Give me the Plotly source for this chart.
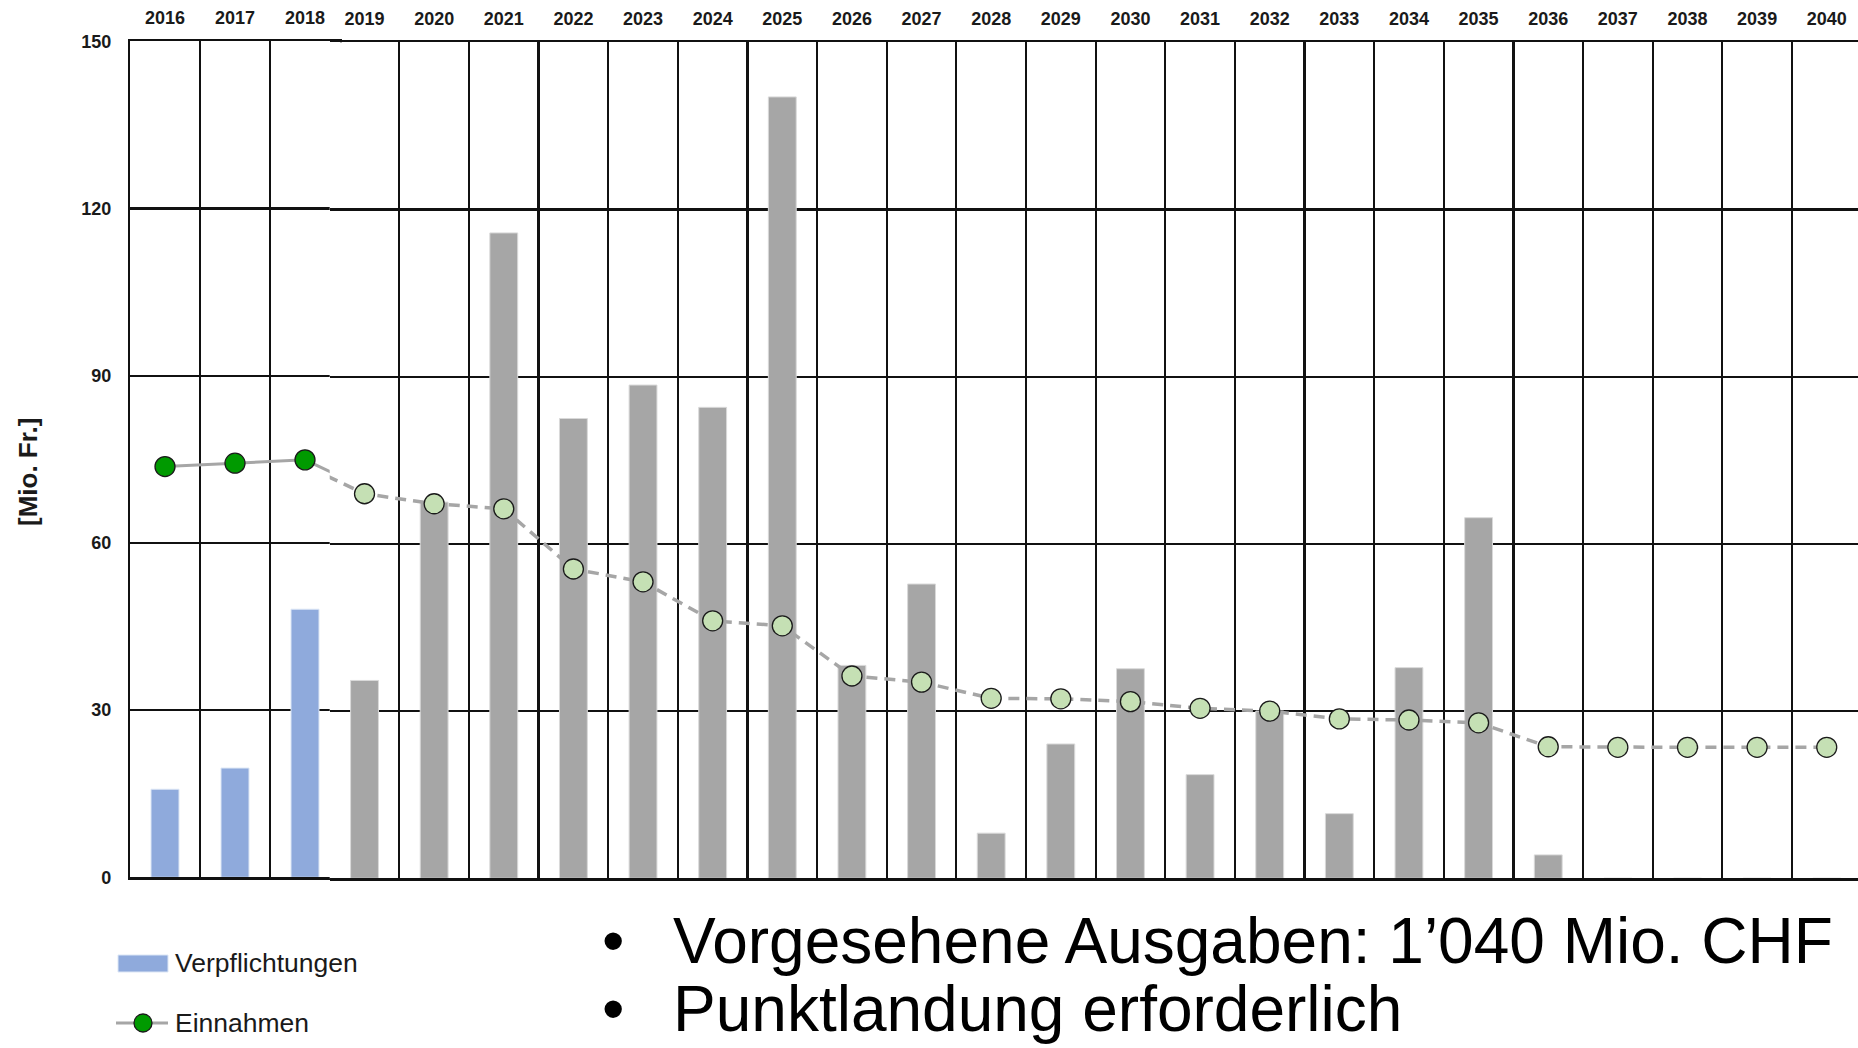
import plotly.graph_objects as go

# ---------------- data ----------------
years_actual = [2016, 2017, 2018]
verpflichtungen_actual = [15.8, 19.6, 48.1]
einnahmen_actual = [73.7, 74.3, 74.9]

years_plan = [2019, 2020, 2021, 2022, 2023, 2024, 2025, 2026, 2027, 2028, 2029,
              2030, 2031, 2032, 2033, 2034, 2035, 2036, 2037, 2038, 2039, 2040]
verpflichtungen_plan = [35.5, 67.5, 115.8, 82.5, 88.5, 84.5, 140.2, 38.2, 52.8, 8.1, 24.1,
                        37.6, 18.6, 30.0, 11.6, 37.8, 64.7, 4.2, 0, 0, 0, 0]
einnahmen_plan = [69.0, 67.2, 66.3, 55.5, 53.2, 46.2, 45.3, 36.3, 35.2, 32.3, 32.2,
                  31.7, 30.5, 30.0, 28.6, 28.4, 27.9, 23.6, 23.5, 23.5, 23.5, 23.5]

y_ticks = [0, 30, 60, 90, 120, 150]
y_title = "[Mio. Fr.]"
legend_labels = ["Verpflichtungen", "Einnahmen"]
bullets = ["Vorgesehene Ausgaben: 1\u2019040 Mio. CHF", "Punktlandung erforderlich"]

# ---------------- style ----------------
W, H = 1858, 1048
SANS = "Liberation Sans, Arial"
BLUE = "#8FAADC"
GRAY = "#A6A6A6"
GREEN = "#009A00"
LGREEN = "#C5E0B4"
GRID = "#111111"
TXT = "#1a1a1a"


def px_x(p):
    """window pixel -> paper x"""
    return p / W


def px_y(p):
    """window pixel -> paper y"""
    return 1 - p / H


fig = go.Figure()

# left panel (actual values)
fig.add_trace(go.Bar(x=years_actual, y=verpflichtungen_actual, width=0.4,
                     marker=dict(color=BLUE, line=dict(color="#DCE6F5", width=1)),
                     name=legend_labels[0], xaxis="x", yaxis="y"))
fig.add_trace(go.Scatter(x=years_actual + years_plan[:1],
                         y=einnahmen_actual + einnahmen_plan[:1],
                         mode="lines+markers", name=legend_labels[1],
                         line=dict(color=GRAY, width=3),
                         marker=dict(color=GREEN, size=20, line=dict(color=TXT, width=1.3)),
                         xaxis="x", yaxis="y"))

# right panel (planned values)
fig.add_trace(go.Bar(x=years_plan, y=verpflichtungen_plan, width=0.4,
                     marker=dict(color=GRAY, line=dict(color="#D9D9D9", width=1)),
                     name="Verpflichtungen (geplant)", xaxis="x2", yaxis="y2"))
fig.add_trace(go.Scatter(x=years_actual[-1:] + years_plan,
                         y=einnahmen_actual[-1:] + einnahmen_plan,
                         mode="lines+markers", name="Einnahmen (geplant)",
                         line=dict(color=GRAY, width=3.5, dash="11px,7px"),
                         marker=dict(color=LGREEN, size=20, line=dict(color=TXT, width=1.3)),
                         xaxis="x2", yaxis="y2"))

tickfont_b = dict(family=SANS, size=18, color=TXT, weight="bold")

left_minor = [y + 0.5 for y in years_actual[:-1]]
right_minor = [y + 0.5 for y in years_plan[:-1]]

common_x = dict(side="top", tickmode="array", ticks="outside", ticklen=8,
                tickcolor="rgba(0,0,0,0)", tickfont=tickfont_b, showgrid=False,
                zeroline=False, showline=True, mirror=True, linecolor=GRID, linewidth=2.2,
                automargin=False, fixedrange=True)

fig.update_layout(
    width=W, height=H, autosize=False,
    margin=dict(l=0, r=0, t=0, b=0),
    paper_bgcolor="white", plot_bgcolor="white",
    bargap=0,
    showlegend=False,
    hovermode=False,
    xaxis=dict(domain=[px_x(130), px_x(340)], range=[2015.5, 2018.5],
               tickvals=years_actual, ticktext=[str(y) for y in years_actual],
               minor=dict(tickmode="array", tickvals=left_minor, showgrid=True,
                          gridcolor=GRID, gridwidth=2.2, ticks=""),
               anchor="y", **common_x),
    yaxis=dict(domain=[px_y(877.3), px_y(41.3)], range=[0, 150],
               tickmode="array", tickvals=y_ticks, ticktext=[str(v) for v in y_ticks],
               ticks="outside", ticklen=13, tickcolor="rgba(0,0,0,0)",
               tickfont=tickfont_b, showgrid=True, gridcolor=GRID, gridwidth=2.2,
               zeroline=False, showline=True, mirror=True, linecolor=GRID, linewidth=2.2,
               anchor="x", automargin=False, fixedrange=True),
    xaxis2=dict(domain=[px_x(329.7), 1.0],
                range=[2018.5, 2018.5 + (W - 329.7) / 69.63],
                tickvals=years_plan, ticktext=[str(y) for y in years_plan],
                minor=dict(tickmode="array", tickvals=right_minor, showgrid=True,
                           gridcolor=GRID, gridwidth=2.2, ticks=""),
                anchor="y2", **common_x),
    yaxis2=dict(domain=[px_y(878.3), px_y(42.3)], range=[0, 150],
                tickmode="array", tickvals=y_ticks, showticklabels=False,
                showgrid=True, gridcolor=GRID, gridwidth=2.2, zeroline=False,
                showline=False, anchor="x2", automargin=False, fixedrange=True),
)

# y-axis title
fig.add_annotation(text=y_title, xref="paper", yref="paper", x=px_x(28), y=px_y(472),
                   xanchor="center", yanchor="middle", textangle=-90, showarrow=False,
                   font=dict(family=SANS, size=26, color=TXT, weight="bold"))

# legend (drawn below the chart, as in the original slide)
leg_font = dict(family=SANS, size=26.5, color=TXT)
fig.add_shape(type="rect", xref="paper", yref="paper",
              x0=px_x(118), x1=px_x(168), y0=px_y(972), y1=px_y(955),
              fillcolor=BLUE, line=dict(color="#DCE6F5", width=1))
fig.add_annotation(text=legend_labels[0], xref="paper", yref="paper", x=px_x(173),
                   y=px_y(963), xanchor="left", yanchor="middle", showarrow=False,
                   font=leg_font)
fig.add_shape(type="line", xref="paper", yref="paper",
              x0=px_x(116), x1=px_x(168), y0=px_y(1023), y1=px_y(1023),
              line=dict(color=GRAY, width=3))
fig.add_shape(type="circle", xref="paper", yref="paper",
              x0=px_x(134), x1=px_x(152), y0=px_y(1032), y1=px_y(1014),
              fillcolor=GREEN, line=dict(color=TXT, width=1.3))
fig.add_annotation(text=legend_labels[1], xref="paper", yref="paper", x=px_x(173),
                   y=px_y(1023), xanchor="left", yanchor="middle", showarrow=False,
                   font=leg_font)

# bullet text
bullet_y = [941, 1009]
for t, yc in zip(bullets, bullet_y):
    fig.add_annotation(text="\u2022", xref="paper", yref="paper", x=px_x(613), y=px_y(yc),
                       xanchor="center", yanchor="middle", showarrow=False,
                       font=dict(family=SANS, size=64, color="black"))
    fig.add_annotation(text=t, xref="paper", yref="paper", x=px_x(671), y=px_y(yc),
                       xanchor="left", yanchor="middle", showarrow=False,
                       font=dict(family=SANS, size=64, color="black"))

# remove the default page margin so the figure fills the window exactly
fig.write_html(
    "out.html",
    config={"displayModeBar": False, "staticPlot": True},
    post_script="document.body.style.margin='0';"
                "document.body.style.overflow='hidden';"
                "document.documentElement.style.overflow='hidden';",
)
